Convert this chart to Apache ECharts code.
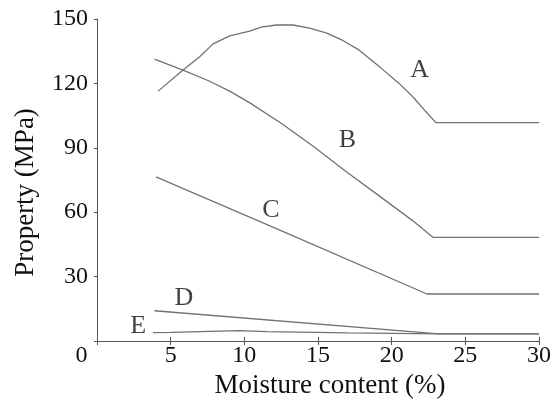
<!DOCTYPE html>
<html>
<head>
<meta charset="utf-8">
<script src="https://cdn.jsdelivr.net/npm/echarts@6/dist/echarts.min.js"></script>
<style>
  html, body { margin: 0; padding: 0; background: #fff; }
  #chart { width: 554px; height: 417px; }
</style>
</head>
<body>
<div id="chart"></div>
<script>
// Moisture content (%) and property (MPa) for each curve
const curveA_x = [4.15, 5.84, 6.97, 7.88, 9.0, 10.36, 11.15, 12.17, 13.3, 14.42, 15.55, 16.68, 17.8, 19.3, 20.5, 21.5, 22.3, 23.0, 30];
const curveA_y = [116.4, 126.2, 132.4, 138.4, 142.1, 144.4, 146.2, 147.2, 147.2, 145.8, 143.5, 140.0, 135.5, 127.0, 120.0, 113.3, 107.0, 101.7, 101.7];

const curveB_x = [3.9, 5.84, 7.65, 9.0, 10.4, 12.5, 14.65, 16.9, 19.15, 21.4, 22.8, 30];
const curveB_y = [131.3, 126.2, 121.0, 116.4, 110.8, 101.4, 90.8, 79.0, 67.6, 56.2, 48.3, 48.3];

const curveC_x = [4.0, 11.9, 22.4, 30];
const curveC_y = [76.5, 53.2, 21.9, 21.9];

const curveD_x = [3.9, 23.2, 30];
const curveD_y = [14.1, 3.3, 3.3];

const curveE_x = [3.8, 5.0, 9.7, 11.5, 17.0, 23.2, 30];
const curveE_y = [3.9, 4.0, 4.8, 4.4, 3.8, 3.3, 3.3];

// Curve names and where each name sits
const labelNames = ['A', 'B', 'C', 'D', 'E'];
const labelX = [21.9, 17.0, 11.8, 5.9, 2.8];
const labelY = [126, 93.4, 61, 20, 7.1];

// Axis ticks
const xTicks = [0, 5, 10, 15, 20, 25, 30];
const yTicks = [0, 30, 60, 90, 120, 150];

const zip = (xs, ys) => xs.map((x, i) => [x, ys[i]]);

const FONT = 'Liberation Serif';
const AXIS_COLOR = '#555';
const LINE_COLOR = '#727272';

const lineSeries = (name, xs, ys) => ({
  name: name,
  type: 'line',
  data: zip(xs, ys),
  showSymbol: false,
  smooth: false,
  lineStyle: { color: LINE_COLOR, width: 1.3 },
  silent: true
});

const chart = echarts.init(document.getElementById('chart'), null, { renderer: 'canvas' });

chart.setOption({
  animation: false,
  backgroundColor: '#fff',
  grid: { left: 97, right: 14, top: 19, bottom: 76, containLabel: false },
  xAxis: [
    {
      type: 'value',
      min: xTicks[0],
      max: xTicks[xTicks.length - 1],
      interval: xTicks[1] - xTicks[0],
      name: 'Moisture content (%)',
      nameLocation: 'middle',
      nameGap: 30,
      nameTextStyle: { fontFamily: FONT, fontSize: 27, color: '#111', padding: [0, 0, 0, 24] },
      axisLine: { lineStyle: { color: AXIS_COLOR, width: 1 } },
      axisTick: { show: true, length: 4, lineStyle: { color: AXIS_COLOR } },
      splitLine: { show: false },
      axisLabel: {
        margin: 3,
        fontFamily: FONT,
        fontSize: 24,
        color: '#111',
        formatter: v => (v === 0 ? '{o|0}' : String(v)),
        rich: { o: { fontFamily: FONT, fontSize: 24, color: '#111', padding: [0, 31, 0, 0] } }
      }
    },
    {
      // inner half of the x ticks, so they cross the axis line
      type: 'value',
      position: 'bottom',
      gridIndex: 0,
      min: xTicks[0],
      max: xTicks[xTicks.length - 1],
      interval: xTicks[1] - xTicks[0],
      axisLine: { show: false },
      axisTick: { show: true, inside: true, length: 4, lineStyle: { color: AXIS_COLOR } },
      axisLabel: { show: false },
      splitLine: { show: false }
    }
  ],
  yAxis: {
    type: 'value',
    min: yTicks[0],
    max: yTicks[yTicks.length - 1],
    interval: yTicks[1] - yTicks[0],
    name: 'Property (MPa)',
    nameLocation: 'middle',
    nameGap: 58,
    nameTextStyle: { fontFamily: FONT, fontSize: 27, color: '#111', padding: [0, 25, 0, 0] },
    axisLine: { show: true, lineStyle: { color: AXIS_COLOR, width: 1 } },
    axisTick: { show: true, length: 3, lineStyle: { color: AXIS_COLOR } },
    splitLine: { show: false },
    axisLabel: {
      margin: 9,
      fontFamily: FONT,
      fontSize: 24,
      color: '#111',
      formatter: v => (v === 0 ? '' : String(v))
    }
  },
  series: [
    lineSeries('A', curveA_x, curveA_y),
    lineSeries('B', curveB_x, curveB_y),
    lineSeries('C', curveC_x, curveC_y),
    lineSeries('D', curveD_x, curveD_y),
    lineSeries('E', curveE_x, curveE_y),
    {
      name: 'labels',
      type: 'scatter',
      symbolSize: 0,
      silent: true,
      data: labelNames.map((n, i) => ({ value: [labelX[i], labelY[i]], name: n })),
      label: {
        show: true,
        position: 'inside',
        formatter: p => p.name,
        fontFamily: FONT,
        fontSize: 26,
        color: '#111'
      }
    }
  ]
});
</script>
</body>
</html>
